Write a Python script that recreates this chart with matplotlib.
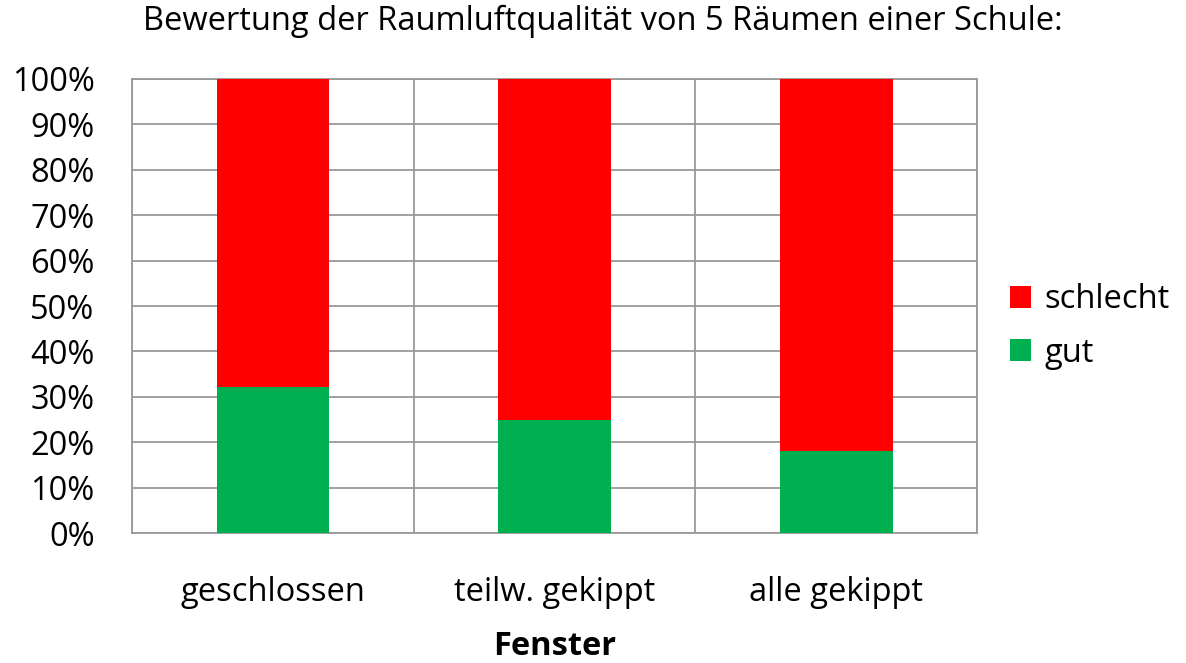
import matplotlib.pyplot as plt
import numpy as np

plt.rcParams['font.family'] = ['Open Sans', 'DejaVu Sans']

categories = ['geschlossen', 'teilw. gekippt', 'alle gekippt']
gut = [32.2, 25.0, 18.1]
schlecht = [100 - g for g in gut]
yticks = list(range(0, 101, 10))

fs = 23.5

fig = plt.figure(figsize=(11.86, 6.63), dpi=100)
ax = fig.add_axes([0.1113, 0.1956, 0.7125, 0.6857])

x = np.arange(len(categories))
b_gut = ax.bar(x, gut, width=0.4, color='#00B050', label='gut', zorder=3)
b_schlecht = ax.bar(x, schlecht, width=0.4, bottom=gut, color='#FF0000',
                    label='schlecht', zorder=3)

ax.set_xlim(-0.5, len(categories) - 0.5)
ax.set_ylim(0, 100)
ax.set_yticks(yticks)
ax.set_yticklabels([f'{t}%' for t in yticks], fontsize=fs)
ax.set_xticks(x)
ax.set_xticklabels(categories, fontsize=fs)
ax.tick_params(axis='both', length=0)
ax.tick_params(axis='y', pad=27)
ax.tick_params(axis='x', pad=31)

# vertical separators between categories
ax.set_xticks(np.arange(len(categories) + 1) - 0.5, minor=True)
ax.grid(True, which='minor', axis='x', color='#999999', linewidth=1.3, zorder=0)
ax.grid(True, which='major', axis='y', color='#999999', linewidth=1.3, zorder=0)
ax.tick_params(which='minor', length=0)
for s in ax.spines.values():
    s.set_color('#999999')
    s.set_linewidth(1.3)

ax.set_xlabel('Fenster', fontsize=fs, fontweight='bold', labelpad=15)

# title is centred on the whole chart, not the plot area
fig.text(0.508, 0.967, 'Bewertung der Raumluftqualität von 5 Räumen einer Schule:',
         fontsize=fs, ha='center', va='center')

ax.legend(handles=[b_schlecht, b_gut], loc='center left',
          bbox_to_anchor=(1.012, 0.455), frameon=False, fontsize=fs,
          handlelength=0.65, handleheight=0.65, handletextpad=0.4,
          labelspacing=0.62, borderpad=0.2)

fig.savefig('out.png', dpi=100)
